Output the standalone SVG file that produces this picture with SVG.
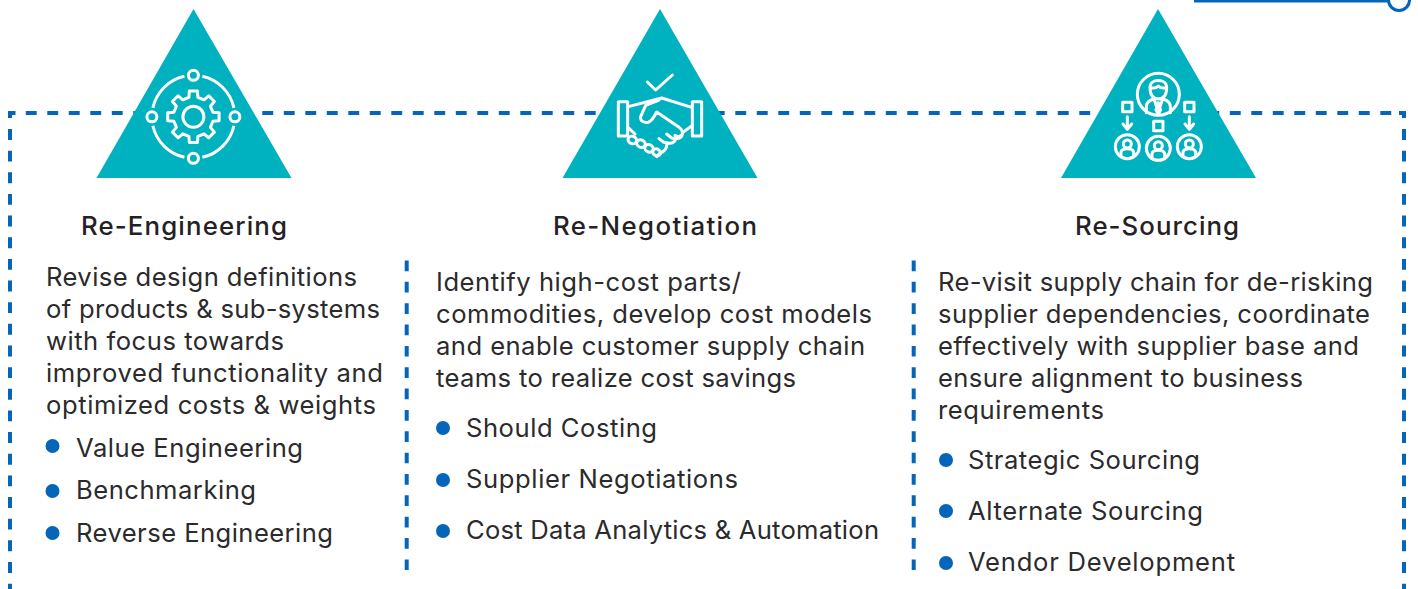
<svg xmlns="http://www.w3.org/2000/svg" width="1418" height="589" viewBox="0 0 1418 589">
<style>
.dash{fill:none;stroke:#0565b8;stroke-width:4;stroke-dasharray:10.8 10.7}
.tri{fill:#00b2bf}
.ic{fill:none;stroke:#fff;stroke-width:3;stroke-linejoin:round;stroke-linecap:round}
.icz{fill:none;stroke:#fff;stroke-width:9;stroke-linejoin:round;stroke-linecap:round}
text{font-family:"Inter","Liberation Sans",sans-serif;fill:#2b2a2c;font-size:25.6px;font-weight:400}
.h{font-weight:500;font-size:25.8px;fill:#232125}
.b{fill:#0565b8}
</style>
<g id="connectors">
<path d="M25.8 113H1400" class="dash" style="stroke-dasharray:10.9 10.6"/>
<path d="M8 111H15.5V115H12V118H8Z" fill="#0565b8"/>
<path d="M1399 111H1406V118H1402V115H1399Z" fill="#0565b8"/>
<path d="M10 129V589" class="dash" style="stroke-dasharray:10.9 10.75"/>
<path d="M1404 129V589" class="dash" style="stroke-dasharray:10.9 10.75"/>
<path d="M406.7 260.5V570" class="dash" style="stroke-dasharray:10.7 10.65"/>
<path d="M913.7 260.5V570" class="dash" style="stroke-dasharray:10.7 10.65"/>
<path d="M1194 1H1388" fill="none" stroke="#0565b8" stroke-width="3"/>
<circle cx="1399" cy="0" r="10.5" fill="#fff" stroke="#0565b8" stroke-width="3"/>
</g>
<g id="re-engineering">
<path class="tri" d="M193.5 9L291.5 178H96.5Z"/>
<g transform="translate(193.4 116.8)">
<circle r="41.5" class="ic" pathLength="360" stroke-dasharray="65 25" stroke-dashoffset="-12.5" style="stroke-linecap:butt"/>
<circle r="10.5" class="ic"/>
<path class="ic" d="M4.07 -25.7L4.5 -19.5L10.6 -17L15.3 -21L21 -15.3L17 -10.6L19.5 -4.5L25.7 -4.07L25.7 4.07L19.5 4.5L17 10.6L21 15.3L15.3 21L10.6 17L4.5 19.5L4.07 25.7L-4.07 25.7L-4.5 19.5L-10.6 17L-15.3 21L-21 15.3L-17 10.6L-19.5 4.5L-25.7 4.07L-25.7 -4.07L-19.5 -4.5L-17 -10.6L-21 -15.3L-15.3 -21L-10.6 -17L-4.5 -19.5L-4.07 -25.7Z"/>
<circle cy="-41.5" r="5" class="ic"/><circle cy="41.5" r="5" class="ic"/><circle cx="-41.5" r="5" class="ic"/><circle cx="41.5" r="5" class="ic"/>
</g>
<text class="h" x="81" y="235" textLength="206">Re-Engineering</text>
<text x="46" y="286" textLength="311">Revise design definitions</text>
<text x="46" y="318" textLength="334">of products &amp; sub-systems</text>
<text x="46" y="350" textLength="238">with focus towards</text>
<text x="46" y="382" textLength="337">improved functionality and</text>
<text x="46" y="414" textLength="330">optimized costs &amp; weights</text>
<circle class="b" cx="52.5" cy="446" r="7"/><text x="76" y="457" textLength="227">Value Engineering</text>
<circle class="b" cx="52.5" cy="491" r="7"/><text x="76" y="499" textLength="180">Benchmarking</text>
<circle class="b" cx="52.5" cy="533" r="7"/><text x="76" y="542" textLength="257">Reverse Engineering</text>
</g>
<g id="re-negotiation">
<path class="tri" d="M660 9L757.5 178H562.5Z"/>
<g transform="translate(555 0) scale(.33333)">
<path class="icz" d="M277 246L302 270L352 225"/>
<path class="icz" d="M190 305H218V408H190ZM412 305H440V408H412Z"/>
<path class="icz" d="M220 320L320 294L410 322M222 385L240 402M408 379L385 396"/>
<path class="icz" d="M312 300L272 316L256 352Q258 370 280 367Q292 362 305 336L370 380Q385 392 382 402Q376 414 360 406M382 402Q380 420 350 414L335 402M362 418Q355 436 325 426L312 416M336 433Q335 452 312 462L305 470"/>
<ellipse class="icz" cx="232" cy="420" rx="13" ry="11" transform="rotate(25 232 420)"/>
<ellipse class="icz" cx="258" cy="431" rx="13" ry="11" transform="rotate(25 258 431)"/>
<ellipse class="icz" cx="282" cy="445" rx="13" ry="11" transform="rotate(25 282 445)"/>
<ellipse class="icz" cx="305" cy="457" rx="12" ry="10" transform="rotate(25 305 457)"/>
</g>
<text class="h" x="553" y="235" textLength="204">Re-Negotiation</text>
<text x="436" y="291" textLength="305">Identify high-cost parts/</text>
<text x="436" y="323" textLength="436">commodities, develop cost models</text>
<text x="436" y="355" textLength="429">and enable customer supply chain</text>
<text x="436" y="387" textLength="360">teams to realize cost savings</text>
<circle class="b" cx="443" cy="428" r="7"/><text x="466" y="437" textLength="191">Should Costing</text>
<circle class="b" cx="443" cy="480" r="7"/><text x="466" y="488" textLength="272">Supplier Negotiations</text>
<circle class="b" cx="443" cy="531" r="7"/><text x="466" y="539" textLength="413">Cost Data Analytics &amp; Automation</text>
</g>
<g id="re-sourcing">
<path class="tri" d="M1158 9L1256 178H1061Z"/>
<g transform="translate(1055 0) scale(.33333)">
<circle class="icz" cx="310" cy="283" r="63"/>
<path class="icz" d="M285 262C285 235 335 235 335 262C335 290 322 297 310 297C298 297 285 290 285 262ZM285 262Q300 268 310 258Q320 268 335 262"/>
<path class="icz" d="M274 338V318Q276 302 297 297L310 335L323 297Q344 302 346 318V338M310 308L303 330L310 342L317 330Z"/>
<path class="icz" d="M203 307H231V335H203ZM389 307H417V335H389ZM296 364H324V392H296Z"/>
<path class="icz" d="M217 350V388M204 372L217 388L230 372M403 350V388M390 372L403 388L416 372"/>
<g><circle class="icz" cx="217" cy="440" r="36"/><circle class="icz" cx="217" cy="432" r="12"/><path class="icz" d="M198 468V456Q200 446 217 446Q234 446 236 456V468"/></g>
<g><circle class="icz" cx="310" cy="445" r="36"/><circle class="icz" cx="310" cy="437" r="12"/><path class="icz" d="M291 473V461Q293 451 310 451Q327 451 329 461V473"/></g>
<g><circle class="icz" cx="403" cy="440" r="36"/><circle class="icz" cx="403" cy="432" r="12"/><path class="icz" d="M384 468V456Q386 446 403 446Q420 446 422 456V468"/></g>
</g>
<text class="h" x="1075" y="235" textLength="164">Re-Sourcing</text>
<text x="938" y="291" textLength="435">Re-visit supply chain for de-risking</text>
<text x="938" y="323" textLength="432">supplier dependencies, coordinate</text>
<text x="938" y="355" textLength="421">effectively with supplier base and</text>
<text x="938" y="387" textLength="365">ensure alignment to business</text>
<text x="938" y="419" textLength="166">requirements</text>
<circle class="b" cx="946" cy="460" r="7"/><text x="968" y="469" textLength="232">Strategic Sourcing</text>
<circle class="b" cx="946" cy="511" r="7"/><text x="968" y="520" textLength="235">Alternate Sourcing</text>
<circle class="b" cx="946" cy="563" r="7"/><text x="968" y="571" textLength="267">Vendor Development</text>
</g>
</svg>
